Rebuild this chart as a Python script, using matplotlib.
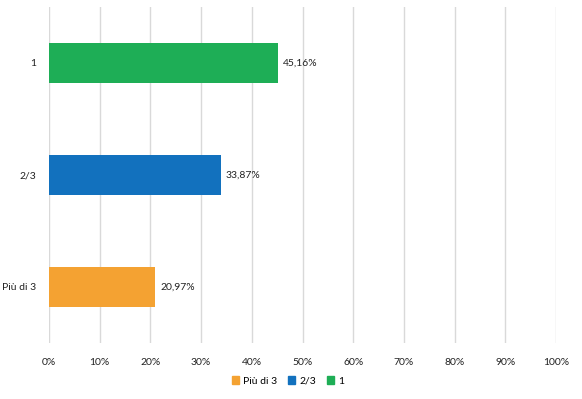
import matplotlib.pyplot as plt
from matplotlib.patches import Patch

# data (bottom to top, as drawn)
categories = ["Più di 3", "2/3", "1"]
values = [20.97, 33.87, 45.16]
labels = ["20,97%", "33,87%", "45,16%"]
colors = ["#F4A232", "#1271BE", "#1EAE56"]
xticks = [0, 10, 20, 30, 40, 50, 60, 70, 80, 90, 100]

plt.rcParams["font.family"] = ["Lato", "DejaVu Sans"]

fig = plt.figure(figsize=(5.82, 3.99), dpi=100)
# axes box in pixels: left 49, right 556, top 7, bottom 343
W, H = 582, 399
ax = fig.add_axes([49 / W, 1 - 343 / H, (556 - 49) / W, (343 - 7) / H])

ypos = list(range(len(categories)))
ax.barh(ypos, values, height=0.36, color=colors, zorder=3)

for y, v, lab in zip(ypos, values, labels):
    ax.text(v + 1, y, lab, va="center", ha="left", fontsize=7.5, color="#222222")

ax.set_xlim(0, 100)
ax.set_ylim(-0.5, len(categories) - 0.5)
ax.set_xticks(xticks)
ax.set_xticklabels([f"{t}%" for t in xticks], fontsize=7.5, color="#222222")
ax.set_yticks(ypos)
ax.set_yticklabels(categories, fontsize=7.5, color="#222222")
ax.tick_params(axis="both", length=0)
ax.tick_params(axis="x", pad=11)
ax.tick_params(axis="y", pad=9)
ax.grid(True, axis="x", color="#D9D9D9", linewidth=1, zorder=0)
for s in ax.spines.values():
    s.set_visible(False)

handles = [Patch(color=c, label=n) for c, n in zip(colors, categories)]
fig.legend(handles=handles, loc="center", bbox_to_anchor=(288 / W, 1 - 381 / H),
           ncol=3, frameon=False, fontsize=7.5, handlelength=0.7, handleheight=0.7,
           handletextpad=0.4, columnspacing=1.0)

fig.savefig("out.png", dpi=100, facecolor="white")
